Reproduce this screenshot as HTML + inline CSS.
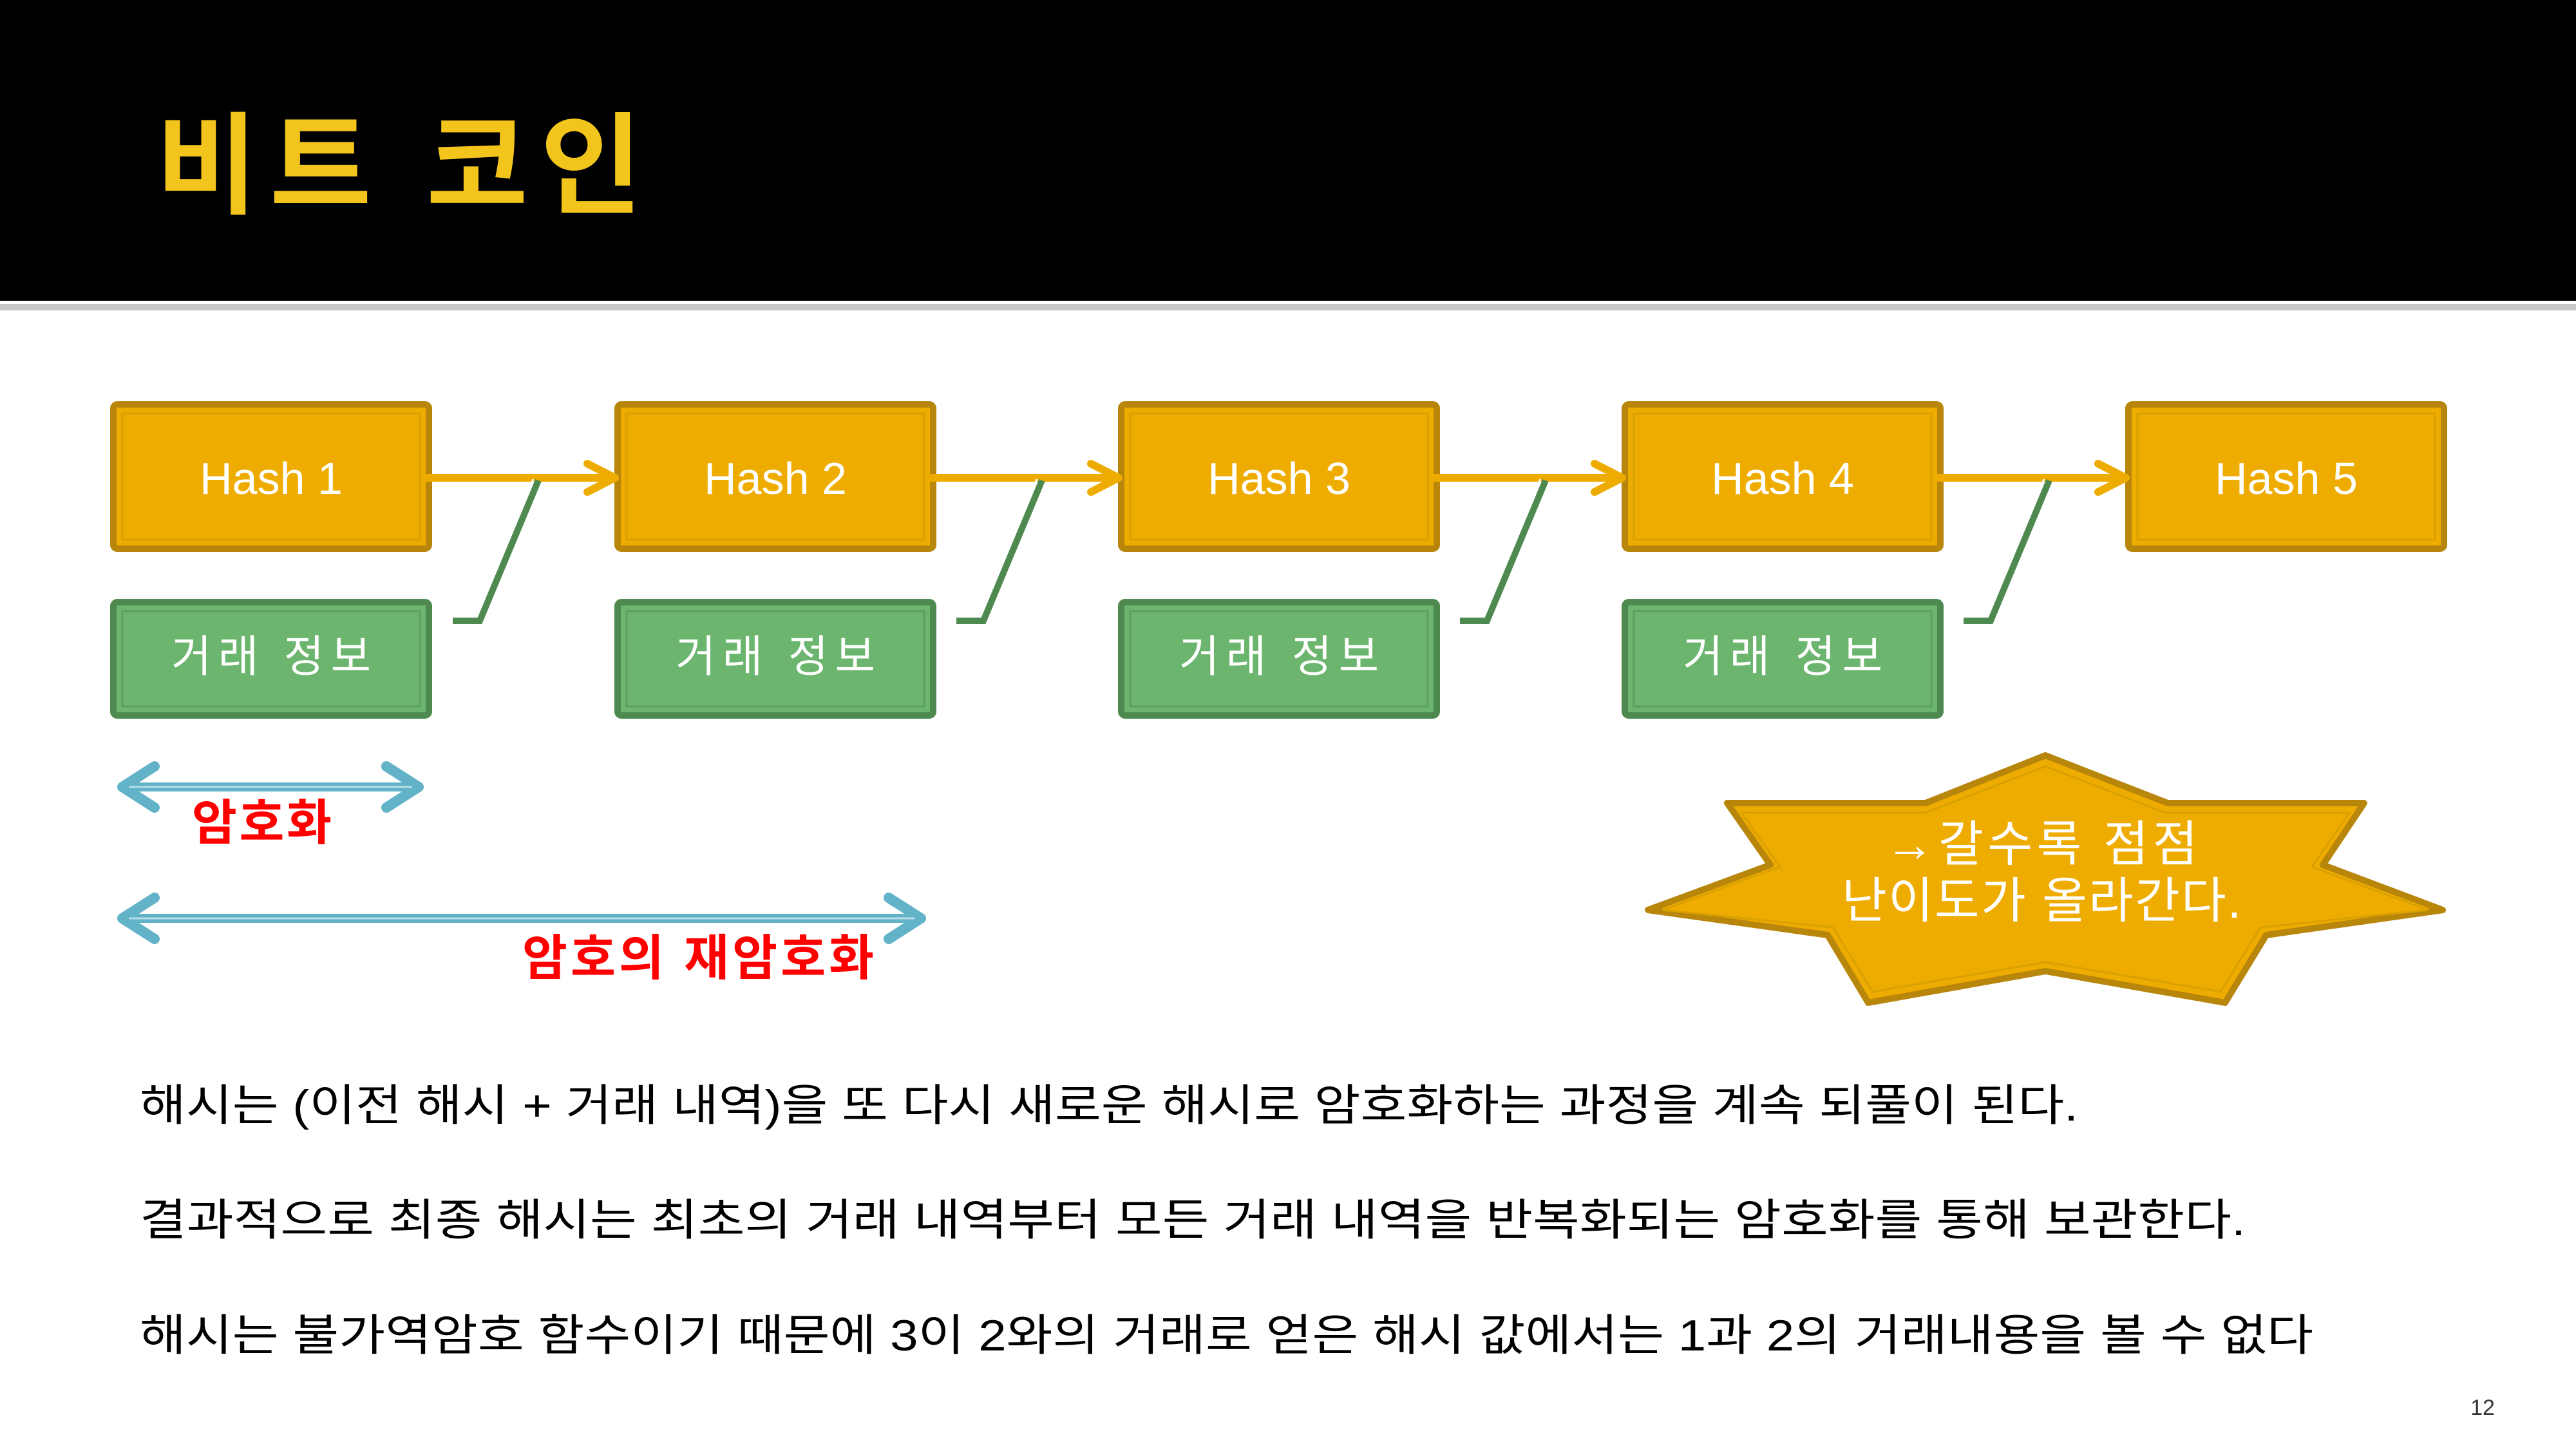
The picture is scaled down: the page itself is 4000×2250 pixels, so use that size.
<!DOCTYPE html>
<html><head><meta charset="utf-8"><style>
html,body{margin:0;padding:0;background:#fff;}
body{width:4000px;height:2250px;position:relative;overflow:hidden;font-family:"Liberation Sans","Noto Sans CJK KR",sans-serif;}
</style></head><body>
<svg width="4000" height="2250" viewBox="0 0 4000 2250" xmlns="http://www.w3.org/2000/svg" style="position:absolute;left:0;top:0">
<rect x="0" y="0" width="4000" height="467" fill="#000"/>
<rect x="0" y="472" width="4000" height="10" fill="#c8c8c8"/>
<text x="242" y="318" font-family="Liberation Sans, Noto Sans CJK KR, sans-serif" font-size="172" font-weight="bold" fill="#F2C41C" textLength="755" lengthAdjust="spacing">비트 코인</text>

<g font-family="Liberation Sans, Noto Sans CJK KR, sans-serif" fill="#fff" text-anchor="middle">
<g stroke="#B8860B" stroke-width="10" fill="#EFAC00">
<rect x="176" y="628" width="490" height="224" rx="6"/>
<rect x="959" y="628" width="490" height="224" rx="6"/>
<rect x="1741" y="628" width="490" height="224" rx="6"/>
<rect x="2523" y="628" width="490" height="224" rx="6"/>
<rect x="3305" y="628" width="490" height="224" rx="6"/>
</g>
<g stroke="#D9A000" stroke-width="3" fill="none">
<rect x="190" y="642" width="462" height="196"/>
<rect x="973" y="642" width="462" height="196"/>
<rect x="1755" y="642" width="462" height="196"/>
<rect x="2537" y="642" width="462" height="196"/>
<rect x="3319" y="642" width="462" height="196"/>
</g>
<g font-size="70">
<text x="421" y="767">Hash 1</text>
<text x="1204" y="767">Hash 2</text>
<text x="1986" y="767">Hash 3</text>
<text x="2768" y="767">Hash 4</text>
<text x="3550" y="767">Hash 5</text>
</g>
<g stroke="#4E8A50" stroke-width="10" fill="#6BB56E">
<rect x="176" y="935" width="490" height="176" rx="6"/>
<rect x="959" y="935" width="490" height="176" rx="6"/>
<rect x="1741" y="935" width="490" height="176" rx="6"/>
<rect x="2523" y="935" width="490" height="176" rx="6"/>
</g>
<g stroke="#5E9E60" stroke-width="3" fill="none">
<rect x="190" y="949" width="462" height="148"/>
<rect x="973" y="949" width="462" height="148"/>
<rect x="1755" y="949" width="462" height="148"/>
<rect x="2537" y="949" width="462" height="148"/>
</g>
<g font-size="68">
<text x="421" y="1043" textLength="310" lengthAdjust="spacing">거래 정보</text>
<text x="1204" y="1043" textLength="310" lengthAdjust="spacing">거래 정보</text>
<text x="1986" y="1043" textLength="310" lengthAdjust="spacing">거래 정보</text>
<text x="2768" y="1043" textLength="310" lengthAdjust="spacing">거래 정보</text>
</g>
</g>

<g id="conn">
<line x1="660" y1="742" x2="950" y2="742" stroke="#EFAC00" stroke-width="12" stroke-linecap="round"/>
<polyline points="912,720 955,742 912,764" fill="none" stroke="#EFAC00" stroke-width="12" stroke-linecap="round" stroke-linejoin="round"/>
<polyline points="836,746 745,964 703,964" fill="none" stroke="#4E8A50" stroke-width="10"/>
<polyline points="828,744 739,957 703,957" fill="none" stroke="#fff" stroke-width="3"/>
</g>
<use href="#conn" x="782"/>
<use href="#conn" x="1564"/>
<use href="#conn" x="2346"/>

<g stroke="#62B2C8" fill="none" stroke-linecap="round" stroke-linejoin="round">
<line x1="190" y1="1222" x2="650" y2="1222" stroke-width="14"/>
<polyline points="240,1190 190,1222 240,1254" stroke-width="16"/>
<polyline points="600,1190 650,1222 600,1254" stroke-width="16"/>
<line x1="190" y1="1426" x2="1430" y2="1426" stroke-width="14"/>
<polyline points="240,1394 190,1426 240,1458" stroke-width="16"/>
<polyline points="1380,1394 1430,1426 1380,1458" stroke-width="16"/>
</g>
<line x1="200" y1="1222" x2="640" y2="1222" stroke="#B8DDE8" stroke-width="3"/>
<line x1="200" y1="1426" x2="1420" y2="1426" stroke="#B8DDE8" stroke-width="3"/>
<g font-family="Liberation Sans, Noto Sans CJK KR, sans-serif" font-size="76" font-weight="bold" fill="#FF0000">
<text x="298" y="1304" textLength="217" lengthAdjust="spacing">암호화</text>
<text x="811" y="1514" textLength="546" lengthAdjust="spacing">암호의 재암호화</text>
</g>

<polygon points="3176,1173 3366,1247 3671,1247 3607,1343 3793,1413 3519,1452 3455,1557 3176,1508 2901,1557 2838,1452 2559,1413 2749,1343 2682,1247 2990,1247" fill="#EFAC00" stroke="#B8860B" stroke-width="10" stroke-linejoin="round"/>
<polygon points="3176,1190 3362,1262 3648,1262 3590,1346 3770,1413 3510,1440 3448,1540 3176,1494 2908,1540 2846,1440 2582,1413 2764,1346 2704,1262 2990,1262" fill="none" stroke="#D9A000" stroke-width="3"/>
<g font-family="Liberation Sans, Noto Sans CJK KR, sans-serif" font-size="76" fill="#fff" text-anchor="middle">
<text x="3170" y="1337" textLength="485" lengthAdjust="spacing">→갈수록 점점</text>
<text x="3170" y="1425" textLength="620" lengthAdjust="spacing">난이도가 올라간다.</text>
</g>

<g font-family="Liberation Sans, Noto Sans CJK KR, sans-serif" font-size="68" fill="#000">
<text x="217" y="1740" textLength="3010" lengthAdjust="spacingAndGlyphs">해시는 (이전 해시 + 거래 내역)을 또 다시 새로운 해시로 암호화하는 과정을 계속 되풀이 된다.</text>
<text x="217" y="1918" textLength="3270" lengthAdjust="spacingAndGlyphs">결과적으로 최종 해시는 최초의 거래 내역부터 모든 거래 내역을 반복화되는 암호화를 통해 보관한다.</text>
<text x="217" y="2097" textLength="3375" lengthAdjust="spacingAndGlyphs">해시는 불가역암호 함수이기 때문에 3이 2와의 거래로 얻은 해시 값에서는 1과 2의 거래내용을 볼 수 없다</text>
</g>
<text x="3855" y="2197" font-family="Liberation Sans, sans-serif" font-size="34" fill="#333" text-anchor="middle">12</text>
</svg>
</body></html>
